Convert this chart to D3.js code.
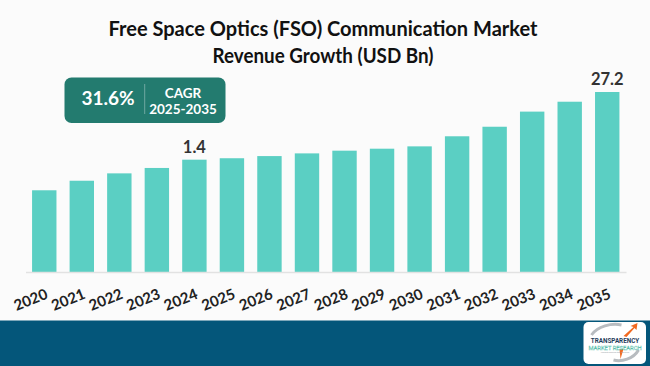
<!DOCTYPE html>
<html>
<head>
<meta charset="utf-8">
<script src="https://cdn.jsdelivr.net/npm/d3@7"></script>
<style>
  html, body { margin: 0; padding: 0; background: #fbfbfb; }
  svg { display: block; }
</style>
</head>
<body>
<svg id="chart"></svg>
<script>
// chart data
const years = ['2020', '2021', '2022', '2023', '2024', '2025', '2026', '2027',
    '2028', '2029', '2030', '2031', '2032', '2033', '2034', '2035']
// bar heights as drawn (index, tallest bar = 100) - the bars are illustrative, not to scale
const barIndex = [45.4, 50.7, 54.8, 57.8, 62.4, 63.2, 64.4, 65.9,
    67.4, 68.5, 69.8, 75.4, 80.7, 89.1, 94.6, 100]
const valueLabels = [
    { year: '2024', text: '1.4' },
    { year: '2035', text: '27.2' }
]
const titleLines = ['Free Space Optics (FSO) Communication Market', 'Revenue Growth (USD Bn)']
const cagrValue = '31.6%'
const cagrLines = ['CAGR', '2025-2035']

const width = 650
const height = 366
const baseline = 272
const plotTop = 92

const colours = {
    bg: '#fbfbfb',
    bar: '#5bcfc3',
    text: '#111111',
    label: '#333333',
    box: '#237b6f',
    footer: '#04567a',
    axis: '#e2e2e2'
}

const svg = d3.select('#chart')
    .attr('width', width)
    .attr('height', height)

svg.append('rect')
    .attr('width', width)
    .attr('height', height)
    .attr('fill', colours.bg)

// title
const titleWidths = [429, 221]
titleLines.forEach((line, i) => {
    svg.append('text')
        .attr('x', 323)
        .attr('y', 36 + i * 27)
        .attr('text-anchor', 'middle')
        .attr('font-family', 'Lato, sans-serif')
        .attr('font-weight', 700)
        .attr('font-size', '20.5px')
        .attr('fill', colours.text)
        .attr('textLength', titleWidths[i])
        .attr('lengthAdjust', 'spacingAndGlyphs')
        .text(line)
})

// scales
const x = d3.scaleBand()
    .domain(years)
    .range([25.5, 626])
    .paddingInner(0.35)
    .paddingOuter(0.175)

const y = d3.scaleLinear()
    .domain([0, 100])
    .range([baseline, plotTop])

// bars
svg.append('g')
    .selectAll('rect')
    .data(years)
    .join('rect')
    .attr('x', d => x(d))
    .attr('y', (d, i) => y(barIndex[i]))
    .attr('width', x.bandwidth())
    .attr('height', (d, i) => baseline - y(barIndex[i]))
    .attr('fill', colours.bar)

// x axis
const xAxis = svg.append('g')
    .attr('transform', `translate(0,${baseline})`)
    .call(d3.axisBottom(x).tickSize(0).tickSizeOuter(0))

xAxis.select('.domain')
    .attr('stroke', colours.axis)
    .attr('stroke-width', 1.5)

xAxis.selectAll('text')
    .attr('x', 0)
    .attr('y', 0)
    .attr('dy', 0)
    .attr('transform', 'translate(4.5,26) rotate(-22)')
    .attr('text-anchor', 'end')
    .attr('font-family', 'Lato, sans-serif')
    .attr('font-weight', 700)
    .attr('font-size', '15px')
    .attr('fill', '#222222')

// value labels
svg.append('g')
    .selectAll('text')
    .data(valueLabels)
    .join('text')
    .attr('x', d => x(d.year) + x.bandwidth() / 2)
    .attr('y', d => y(barIndex[years.indexOf(d.year)]) - 7)
    .attr('text-anchor', 'middle')
    .attr('font-family', 'Lato, sans-serif')
    .attr('font-weight', 700)
    .attr('font-size', '16.5px')
    .attr('fill', colours.label)
    .text(d => d.text)

// CAGR box
const box = svg.append('g')
box.append('rect')
    .attr('x', 64.5)
    .attr('y', 77.5)
    .attr('width', 161)
    .attr('height', 45.5)
    .attr('rx', 7)
    .attr('fill', colours.box)

box.append('text')
    .attr('x', 108)
    .attr('y', 105)
    .attr('text-anchor', 'middle')
    .attr('font-family', 'Lato, sans-serif')
    .attr('font-weight', 700)
    .attr('font-size', '19px')
    .attr('fill', '#ffffff')
    .text(cagrValue)

box.append('line')
    .attr('x1', 144.7).attr('x2', 144.7)
    .attr('y1', 84).attr('y2', 114)
    .attr('stroke', '#6fa8a0')
    .attr('stroke-width', 1)

cagrLines.forEach((line, i) => {
    box.append('text')
        .attr('x', 183)
        .attr('y', 97.5 + i * 16)
        .attr('text-anchor', 'middle')
        .attr('font-family', 'Lato, sans-serif')
        .attr('font-weight', 700)
        .attr('font-size', '13.5px')
        .attr('fill', '#ffffff')
        .text(line)
})

// footer band
svg.append('rect')
    .attr('x', 0)
    .attr('y', 320.5)
    .attr('width', width)
    .attr('height', height - 320.5)
    .attr('fill', colours.footer)

// logo
const logo = svg.append('g').attr('transform', 'translate(583.5,322)')
logo.append('rect')
    .attr('width', 62.5)
    .attr('height', 42)
    .attr('rx', 5)
    .attr('fill', '#ffffff')

logo.append('path')
    .attr('d', 'M8,13 C14,4 28,1 38,3')
    .attr('fill', 'none')
    .attr('stroke', '#b8bcc0')
    .attr('stroke-width', 3)
logo.append('path')
    .attr('d', 'M55,28 C50,37 38,40 30,38')
    .attr('fill', 'none')
    .attr('stroke', '#b8bcc0')
    .attr('stroke-width', 3)
logo.append('path')
    .attr('d', 'M40,14 L50,5 L47,4 L54,1 L53,8 L51,6 L43,15 Z')
    .attr('fill', '#f26a21')
logo.append('path')
    .attr('d', 'M36,27 L40,27 L37,37 Z')
    .attr('fill', '#f26a21')

logo.append('text')
    .attr('x', 31.5)
    .attr('y', 21)
    .attr('text-anchor', 'middle')
    .attr('font-family', 'Roboto, sans-serif')
    .attr('font-weight', 700)
    .attr('font-size', '6.3px')
    .attr('fill', '#1f3d5c')
    .text('TRANSPARENCY')
logo.append('text')
    .attr('x', 31.5)
    .attr('y', 27.5)
    .attr('text-anchor', 'middle')
    .attr('font-family', 'Roboto, sans-serif')
    .attr('font-size', '5.8px')
    .attr('fill', 'none')
    .attr('stroke', '#5cbfae')
    .attr('stroke-width', 0.35)
    .text('MARKET RESEARCH')
logo.append('text')
    .attr('x', 31.5)
    .attr('y', 31)
    .attr('text-anchor', 'middle')
    .attr('font-family', 'Roboto, sans-serif')
    .attr('font-size', '2.4px')
    .attr('fill', '#9aa0a6')
    .text('Insight beyond the obvious')
</script>
</body>
</html>
